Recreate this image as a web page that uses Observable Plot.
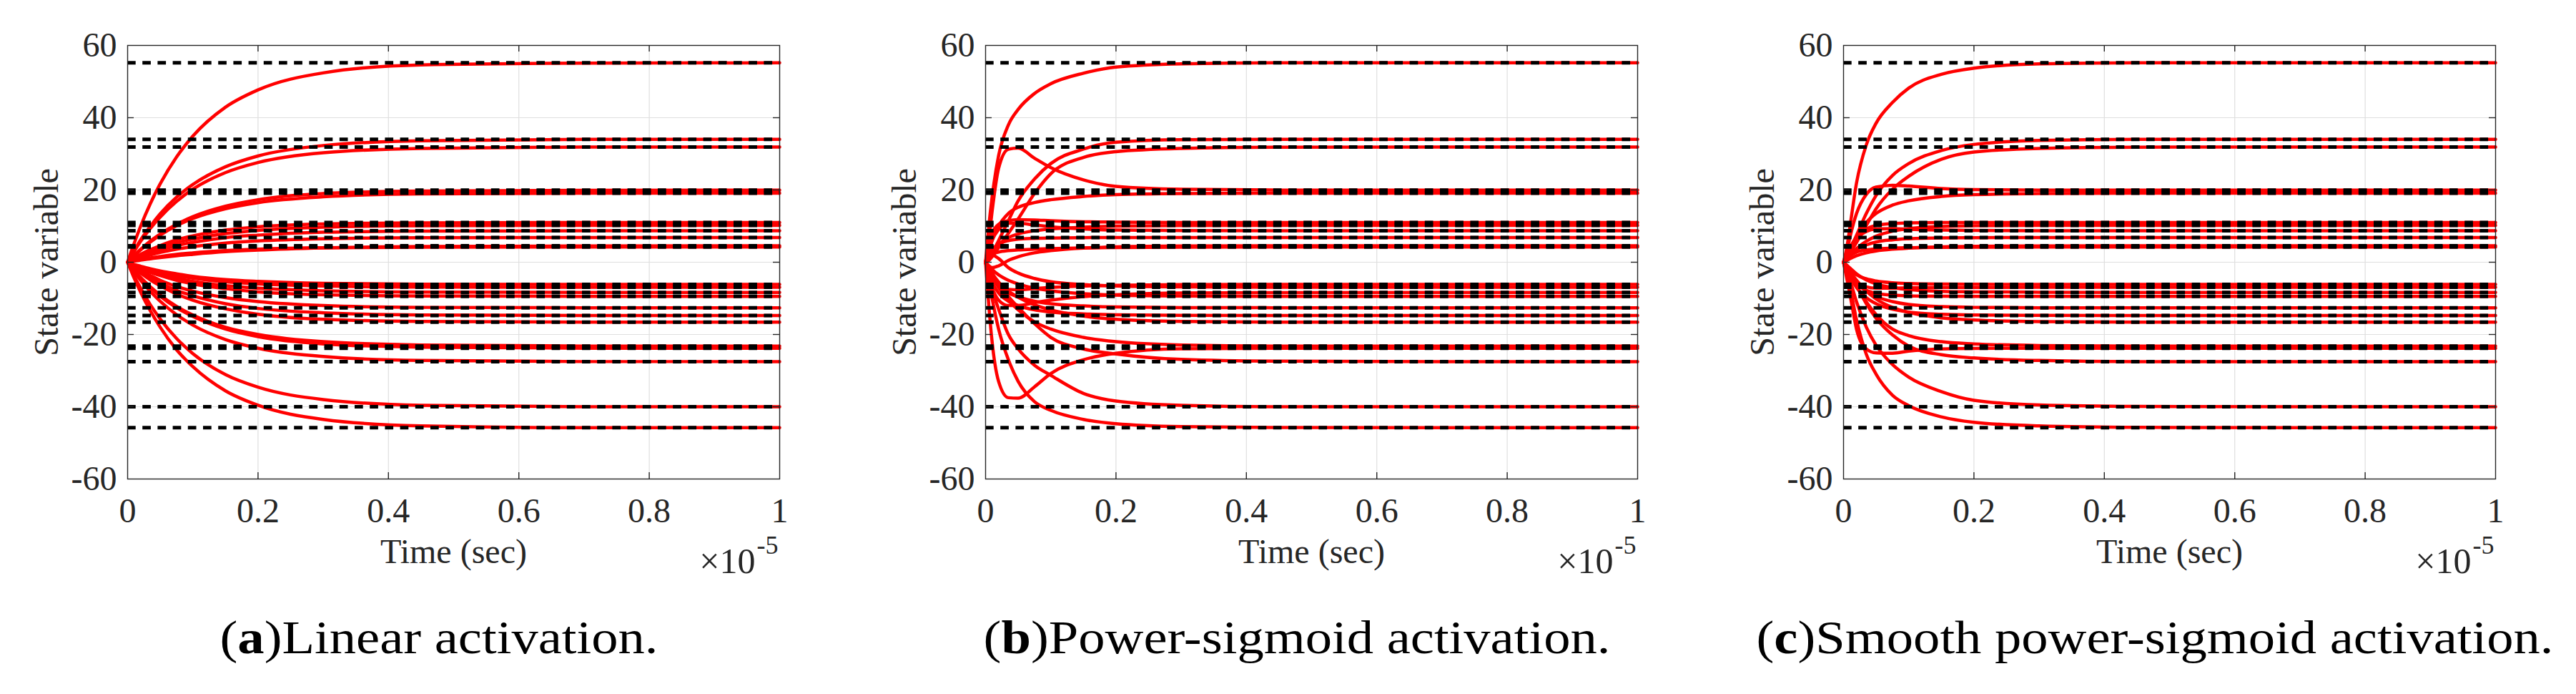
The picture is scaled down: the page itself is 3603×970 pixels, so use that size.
<!DOCTYPE html>
<html><head><meta charset="utf-8">
<script src="https://cdn.jsdelivr.net/npm/d3@7"></script>
<script src="https://cdn.jsdelivr.net/npm/@observablehq/plot@0.6"></script>
<style>
html,body{margin:0;padding:0;background:#fff;}
#page{position:relative;width:3603px;height:970px;overflow:hidden;background:#fff;}
.panel{position:absolute;top:0;width:1200px;height:970px;}
.panel svg{position:absolute;left:0;top:0;}
.cap{position:absolute;top:858px;left:614px;transform:translateX(-50%) scaleX(1.13);transform-origin:center;white-space:nowrap;font-family:"Liberation Serif",serif;font-size:66px;line-height:66px;color:#000;}
</style></head><body><div id="page"></div>
<script>
// sample times (units of 1e-5 s)
const T = [0, 0.005, 0.01, 0.02, 0.035, 0.05, 0.075, 0.1, 0.15, 0.2, 0.3, 0.45, 0.7, 1.0];
// steady-state (theoretical) solution values, black dashed lines
const finals = [55.2, 34.0, 31.9, 19.95, 19.1, 11.0, 10.2, 8.7, 6.85, 4.55, 4.2,
  -6.15, -6.95, -8.35, -9.45, -12.6, -14.75, -16.6, -23.2, -23.8, -27.5, -40.0, -45.8];

const linearStates = [
  [0, 2.7, 5.2, 10.0, 16.3, 21.7, 29.1, 34.9, 42.9, 47.7, 52.4, 54.6, 55.1, 55.2],
  [0, 1.7, 3.2, 6.2, 10.0, 13.4, 18.0, 21.5, 26.4, 29.4, 32.3, 33.6, 34.0, 34.0],
  [0, 1.5, 3.0, 5.8, 9.4, 12.5, 16.8, 20.2, 24.8, 27.6, 30.3, 31.5, 31.9, 31.9],
  [0, 1.0, 1.9, 3.6, 5.9, 7.8, 10.5, 12.6, 15.5, 17.3, 19.0, 19.7, 19.9, 19.95],
  [0, 0.9, 1.8, 3.4, 5.6, 7.5, 10.1, 12.1, 14.8, 16.5, 18.1, 18.9, 19.1, 19.1],
  [0, 0.6, 1.2, 2.2, 3.5, 4.6, 6.2, 7.3, 8.9, 9.8, 10.6, 10.9, 11.0, 11.0],
  [0, 0.5, 1.0, 1.9, 3.0, 4.0, 5.4, 6.4, 7.9, 8.8, 9.7, 10.1, 10.2, 10.2],
  [0, 0.4, 0.8, 1.6, 2.6, 3.4, 4.6, 5.5, 6.8, 7.5, 8.3, 8.6, 8.7, 8.7],
  [0, 0.3, 0.6, 1.2, 2.0, 2.7, 3.6, 4.3, 5.3, 5.9, 6.5, 6.8, 6.85, 6.85],
  [0, 0.15, 0.3, 0.6, 0.95, 1.3, 1.8, 2.2, 2.9, 3.35, 3.95, 4.35, 4.5, 4.55],
  [0, 0.2, 0.4, 0.75, 1.2, 1.6, 2.2, 2.6, 3.2, 3.6, 4.0, 4.15, 4.2, 4.2],
  [0, -0.3, -0.6, -1.1, -1.8, -2.4, -3.2, -3.9, -4.8, -5.3, -5.85, -6.1, -6.15, -6.15],
  [0, -0.35, -0.7, -1.3, -2.1, -2.8, -3.7, -4.4, -5.4, -6.0, -6.6, -6.9, -6.95, -6.95],
  [0, -0.4, -0.8, -1.5, -2.5, -3.3, -4.4, -5.3, -6.5, -7.2, -7.9, -8.25, -8.35, -8.35],
  [0, -0.5, -0.9, -1.7, -2.8, -3.7, -5.0, -6.0, -7.3, -8.2, -9.0, -9.35, -9.45, -9.45],
  [0, -0.6, -1.2, -2.3, -3.7, -5.0, -6.7, -8.0, -9.8, -10.9, -12.0, -12.5, -12.6, -12.6],
  [0, -0.7, -1.4, -2.7, -4.4, -5.8, -7.8, -9.3, -11.5, -12.8, -14.0, -14.6, -14.75, -14.75],
  [0, -0.8, -1.6, -3.0, -4.9, -6.5, -8.8, -10.5, -12.9, -14.4, -15.8, -16.4, -16.6, -16.6],
  [0, -1.1, -2.2, -4.2, -6.8, -9.1, -12.2, -14.6, -18.0, -20.0, -22.0, -22.9, -23.2, -23.2],
  [0, -1.2, -2.3, -4.3, -7.0, -9.4, -12.6, -15.0, -18.5, -20.6, -22.6, -23.5, -23.8, -23.8],
  [0, -1.3, -2.6, -5.0, -8.1, -10.8, -14.5, -17.4, -21.4, -23.8, -26.1, -27.2, -27.5, -27.5],
  [0, -2.0, -3.8, -7.2, -11.8, -15.7, -21.1, -25.3, -31.1, -34.6, -38.0, -39.6, -40.0, -40.0],
  [0, -2.2, -4.4, -8.3, -13.5, -18.0, -24.2, -28.9, -35.6, -39.6, -43.5, -45.3, -45.8, -45.8]
];

const powerSigmoidStates = [
  [0, 10, 18, 29.5, 38, 42.3, 46.7, 49.4, 52.3, 54.0, 54.9, 55.2, 55.2, 55.2],
  [0, 1, 2.5, 6, 11.5, 17, 23, 27.3, 31.3, 33.2, 33.9, 34.0, 34.0, 34.0],
  [0, 0.5, 1.5, 4, 8, 12, 19, 24.5, 29.0, 30.6, 31.5, 31.85, 31.9, 31.9],
  [0, 6, 14, 26, 31.3, 31.6, 28.8, 26.2, 22.8, 21.0, 20.2, 19.97, 19.95, 19.95],
  [0, 3, 6, 10, 13.5, 15.2, 16.5, 17.3, 18.2, 18.7, 19.0, 19.1, 19.1, 19.1],
  [0, 5, 8, 10.5, 11.5, 11.8, 11.7, 11.5, 11.2, 11.1, 11.0, 11.0, 11.0, 11.0],
  [0, 1.5, 3, 5, 6.8, 7.8, 8.7, 9.2, 9.7, 10.0, 10.15, 10.2, 10.2, 10.2],
  [0, 3, 6, 9, 10.8, 10.8, 10.3, 9.8, 9.2, 8.9, 8.75, 8.7, 8.7, 8.7],
  [0, 2, 3.5, 5, 6, 6.4, 6.6, 6.7, 6.8, 6.85, 6.85, 6.85, 6.85, 6.85],
  [0, -1, -1.5, -1.0, 0.5, 1.5, 2.6, 3.2, 3.9, 4.25, 4.5, 4.55, 4.55, 4.55],
  [0, 1.5, 2.2, 2.8, 3.2, 3.4, 3.6, 3.75, 3.95, 4.05, 4.15, 4.2, 4.2, 4.2],
  [0, -2, -4, -6.5, -7.5, -7.6, -7.3, -7.0, -6.6, -6.4, -6.2, -6.15, -6.15, -6.15],
  [0, 1.5, 2.0, 1.0, -1.5, -3.0, -4.5, -5.4, -6.2, -6.6, -6.85, -6.95, -6.95, -6.95],
  [0, -4, -7, -10.5, -12, -12, -11.2, -10.5, -9.5, -9.0, -8.5, -8.4, -8.35, -8.35],
  [0, -1, -2, -3.5, -5, -6, -7.2, -7.9, -8.7, -9.1, -9.35, -9.45, -9.45, -9.45],
  [0, -2, -4, -6.5, -8.5, -9.6, -10.8, -11.5, -12.1, -12.4, -12.55, -12.6, -12.6, -12.6],
  [0, -3, -5.5, -8.5, -10.8, -12, -13.2, -13.8, -14.3, -14.55, -14.7, -14.75, -14.75, -14.75],
  [0, -1.5, -3, -5.5, -8, -9.7, -11.8, -13.2, -14.9, -15.8, -16.4, -16.6, -16.6, -16.6],
  [0, -2, -4, -7, -10.5, -13.2, -16.5, -18.5, -20.8, -22.0, -22.9, -23.2, -23.2, -23.2],
  [0, -12, -22, -33, -37.5, -37.6, -34.5, -30.8, -27.0, -25.2, -23.95, -23.8, -23.8, -23.8],
  [0, -1.5, -3, -6, -9.5, -12.5, -17, -20.8, -24, -25.4, -26.9, -27.4, -27.5, -27.5],
  [0, -4, -7.5, -13, -20, -24, -28.5, -31.3, -36.3, -38.4, -39.6, -40, -40, -40],
  [0, -5, -10, -18.5, -27, -33, -38.6, -41, -43.5, -44.7, -45.5, -45.75, -45.8, -45.8]
];

const smoothPowerSigmoidStates = [
  [0, 4, 10, 22, 32.5, 38.5, 44.2, 48.2, 52.0, 53.7, 54.9, 55.2, 55.2, 55.2],
  [0, 1.5, 3.5, 7.5, 13.5, 18.5, 24, 27.3, 30.9, 32.6, 33.7, 34.0, 34.0, 34.0],
  [0, 1, 2.5, 5.5, 10.2, 14.8, 20.2, 23.8, 28.5, 30.5, 31.5, 31.85, 31.9, 31.9],
  [0, 3, 7, 13.5, 18.8, 20.8, 21.3, 21.1, 20.4, 20.1, 19.95, 19.95, 19.95, 19.95],
  [0, 1.5, 3.5, 7, 11, 13.5, 15.8, 17.0, 18.2, 18.7, 19.0, 19.1, 19.1, 19.1],
  [0, 2, 4, 7, 9.2, 10.2, 10.7, 10.9, 11.0, 11.0, 11.0, 11.0, 11.0, 11.0],
  [0, 1, 2, 3.8, 5.8, 7.2, 8.6, 9.3, 9.9, 10.1, 10.2, 10.2, 10.2, 10.2],
  [0, 2, 4, 6.5, 8.5, 9.2, 9.3, 9.1, 8.9, 8.8, 8.7, 8.7, 8.7, 8.7],
  [0, 1, 2, 3.5, 4.8, 5.6, 6.2, 6.5, 6.75, 6.8, 6.85, 6.85, 6.85, 6.85],
  [0, 0.5, 1.0, 1.8, 2.6, 3.1, 3.6, 3.9, 4.25, 4.4, 4.5, 4.55, 4.55, 4.55],
  [0, 1, 1.8, 2.8, 3.4, 3.7, 3.9, 4.0, 4.1, 4.15, 4.2, 4.2, 4.2, 4.2],
  [0, -1, -2, -3.5, -4.6, -5.2, -5.7, -5.9, -6.05, -6.1, -6.15, -6.15, -6.15, -6.15],
  [0, -2, -3.5, -5.5, -6.8, -7.2, -7.2, -7.1, -7.0, -6.97, -6.95, -6.95, -6.95, -6.95],
  [0, -0.8, -1.6, -3.2, -4.9, -6.0, -7.0, -7.6, -8.05, -8.2, -8.3, -8.35, -8.35, -8.35],
  [0, -2, -3.8, -6, -7.8, -8.6, -9.1, -9.3, -9.4, -9.45, -9.45, -9.45, -9.45, -9.45],
  [0, -1.5, -3, -5.5, -8, -9.5, -10.9, -11.7, -12.3, -12.5, -12.6, -12.6, -12.6, -12.6],
  [0, -2, -4, -7, -9.8, -11.5, -13, -13.8, -14.4, -14.6, -14.7, -14.75, -14.75, -14.75],
  [0, -1.2, -2.5, -5, -8, -10.2, -12.5, -13.9, -15.4, -16.0, -16.45, -16.6, -16.6, -16.6],
  [0, -1.5, -3, -6.5, -11, -14.5, -18.5, -20.3, -22.0, -22.6, -23.05, -23.2, -23.2, -23.2],
  [0, -4.5, -9, -18.6, -24, -25.1, -25.2, -24.6, -24.0, -23.85, -23.8, -23.8, -23.8, -23.8],
  [0, -1.5, -3, -6.5, -11.5, -15.5, -20.1, -23.2, -25.6, -26.5, -27.2, -27.5, -27.5, -27.5],
  [0, -2.5, -5, -11, -18, -23, -28.3, -31.8, -35.8, -38.2, -39.5, -39.9, -40, -40],
  [0, -3.5, -7, -16, -25.5, -31, -36.8, -39.7, -42.8, -44.3, -45.3, -45.7, -45.8, -45.8]
];

const xTicks = [0, 0.2, 0.4, 0.6, 0.8, 1];
const yTicks = [-60, -40, -20, 0, 20, 40, 60];
const xInner = [0.2, 0.4, 0.6, 0.8];
const yInner = [-40, -20, 0, 20, 40];
const xLabel = "Time (sec)";
const yLabel = "State variable";
const scaleBase = "×10";
const scaleExp = "-5";
const captionLetters = ["a", "b", "c"];
const captionTexts = ["Linear activation.", "Power-sigmoid activation.", "Smooth power-sigmoid activation."];
const panelStates = [linearStates, powerSigmoidStates, smoothPowerSigmoidStates];

const AX = "#262626";
const plotH = 606, plotW = 912, tickLen = 9;

function makePanel(states) {
  const rows = [];
  states.forEach((vals, i) => vals.forEach((v, j) => rows.push({t: T[j], v: v, id: i})));
  return Plot.plot({
    width: 1200, height: 820,
    marginLeft: 178, marginRight: 110, marginTop: 63, marginBottom: 151,
    x: {domain: [0, 1]},
    y: {domain: [-60, 60]},
    style: {fontFamily: "'Liberation Serif', serif", background: "transparent", color: AX, overflow: "visible"},
    marks: [
      Plot.ruleX(xInner, {stroke: "#dfdfdf", strokeWidth: 1.2}),
      Plot.ruleY(yInner, {stroke: "#dfdfdf", strokeWidth: 1.2}),
      Plot.line(rows, {x: "t", y: "v", z: "id", stroke: "#ff0000", strokeWidth: 4.5, curve: "monotone-x"}),
      Plot.ruleY(finals, {stroke: "#000", strokeWidth: 5, strokeDasharray: "11.7,9.5"}),
      Plot.frame({stroke: AX, strokeWidth: 1.4}),
      Plot.ruleX(xInner, {stroke: AX, strokeWidth: 1.4, insetBottom: plotH - tickLen}),
      Plot.ruleX(xInner, {stroke: AX, strokeWidth: 1.4, insetTop: plotH - tickLen}),
      Plot.ruleY(yInner, {stroke: AX, strokeWidth: 1.4, insetRight: plotW - tickLen}),
      Plot.ruleY(yInner, {stroke: AX, strokeWidth: 1.4, insetLeft: plotW - tickLen}),
      Plot.axisX({ticks: xTicks, tickSize: 0, tickPadding: 26, fontSize: 48, fontFamily: "'Liberation Serif', serif", tickFormat: d => String(d), label: null, fill: AX}),
      Plot.axisY({ticks: yTicks, tickSize: 0, tickPadding: 15, fontSize: 48, fontFamily: "'Liberation Serif', serif", tickFormat: d => String(d), label: null, fill: AX}),
      Plot.text([xLabel], {text: d => d, frameAnchor: "bottom", textAnchor: "middle", lineAnchor: "middle", dy: 102.6, fontSize: 48, fill: AX}),
      Plot.text([yLabel], {text: d => d, frameAnchor: "left", textAnchor: "middle", lineAnchor: "middle", dx: -113, rotate: -90, fontSize: 48, fill: AX}),
      Plot.text([scaleBase], {text: d => d, frameAnchor: "bottom-right", textAnchor: "end", lineAnchor: "middle", dx: -34, dy: 115, fontSize: 50, fill: AX}),
      Plot.text([scaleExp], {text: d => d, frameAnchor: "bottom-right", textAnchor: "start", lineAnchor: "middle", dx: -32, dy: 92.5, fontSize: 36, fill: AX})
    ]
  });
}

const page = document.getElementById("page");
panelStates.forEach((states, k) => {
  const div = document.createElement("div");
  div.className = "panel";
  div.style.left = (1200 * k) + "px";
  div.appendChild(makePanel(states));
  const cap = document.createElement("div");
  cap.className = "cap";
  cap.innerHTML = "(<b>" + captionLetters[k] + "</b>)" + captionTexts[k];
  div.appendChild(cap);
  page.appendChild(div);
});
</script></body></html>
